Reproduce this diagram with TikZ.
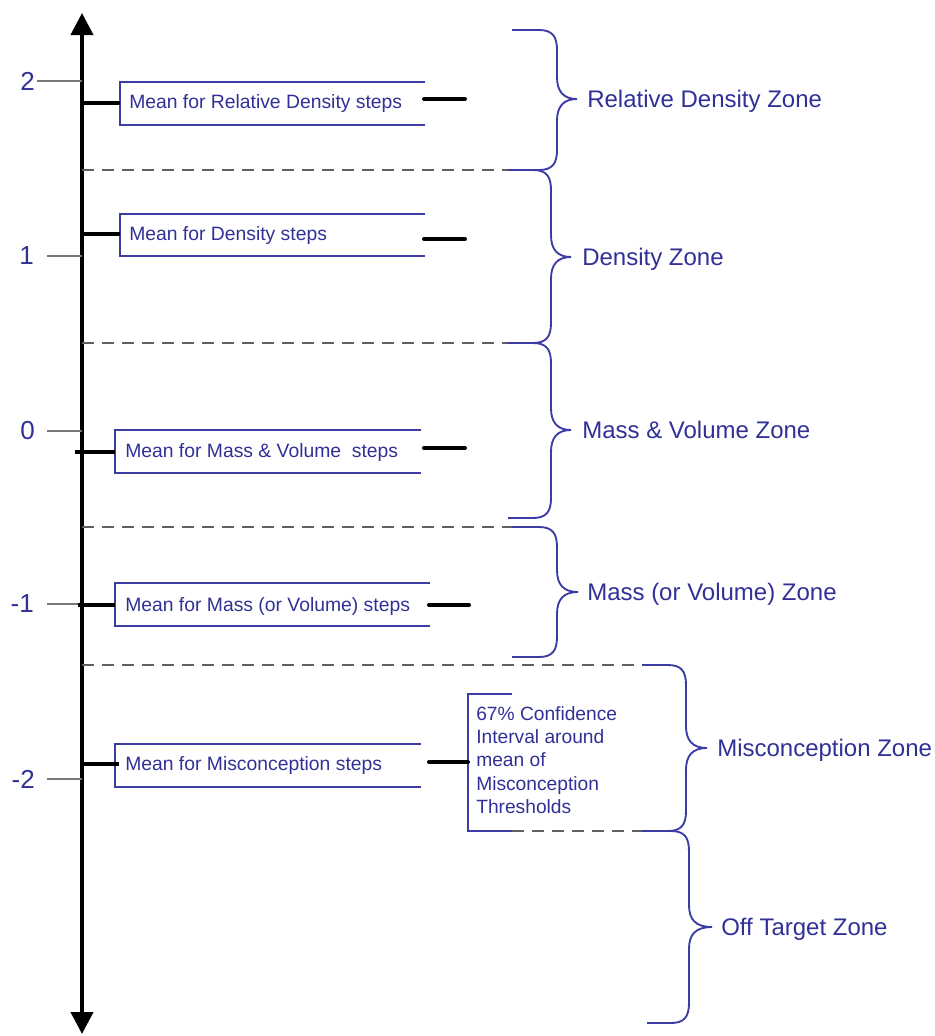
\documentclass[tikz,border=0pt]{standalone}
\usepackage{fontspec}
\setmainfont{Liberation Sans}
\usetikzlibrary{arrows.meta}
\definecolor{zblue}{RGB}{48,48,150}
\definecolor{lblue}{RGB}{60,60,165}
\definecolor{tickgray}{RGB}{120,120,120}
\definecolor{dashgray}{RGB}{95,95,95}
\newcommand{\zonebrace}[6]{% x0, ytop, ybot, xvert, xtip, ytip
  \draw[bracestyle] (#1,#2) -- (#4-18,#2) .. controls (#4-5,#2) and (#4,#2+6) .. (#4,#2+20)
    -- (#4,#6-22) .. controls (#4,#6-8) and (#4+6,#6) .. (#5,#6)
    .. controls (#4+6,#6) and (#4,#6+8) .. (#4,#6+22)
    -- (#4,#3-20) .. controls (#4,#3-6) and (#4-5,#3) .. (#4-18,#3) -- (#1,#3);}
\begin{document}
\begin{tikzpicture}[x=0.75pt,y=-0.75pt,
  axisline/.style={line width=3pt,black},
  tickline/.style={line width=1pt,tickgray},
  ticklabel/.style={anchor=east,inner sep=0pt,text=zblue,font=\fontsize{19.5}{21}\selectfont},
  meanline/.style={line width=2.3pt,black},
  rdash/.style={line width=3pt,black,line cap=round},
  boxline/.style={line width=1.1pt,lblue},
  boxtext/.style={anchor=base west,inner sep=0pt,text=zblue,font=\fontsize{14.5}{17}\selectfont},
  zonetext/.style={anchor=base west,inner sep=0pt,text=zblue,font=\fontsize{18}{20}\selectfont},
  zonedash/.style={line width=1.4pt,dashgray,dash pattern=on 9pt off 6pt},
  bracestyle/.style={line width=1.4pt,lblue},
]
\useasboundingbox (0,0) rectangle (935,1036);

% axis
\coordinate (axtop) at (82,13);
\coordinate (axbot) at (82,1034);
\draw[axisline,{Triangle[length=16.5pt,width=16.5pt]}-{Triangle[length=16.5pt,width=16.5pt]}] (axbot) -- (axtop);

% ticks
\coordinate (t2) at (82,81);
\coordinate (t1) at (82,256);
\coordinate (t0) at (82,431);
\coordinate (tm1) at (82,604);
\coordinate (tm2) at (82,779);
\node[ticklabel] (l2) at (35,81) {2};
\node[ticklabel] (l1) at (34,256) {1};
\node[ticklabel] (l0) at (35,431) {0};
\node[ticklabel] (lm1) at (34,604) {-1};
\node[ticklabel] (lm2) at (35,779) {-2};
\draw[tickline] (37,81) -- (t2);
\draw[tickline] (47,256) -- (t1);
\draw[tickline] (47,431) -- (t0);
\draw[tickline] (47,604) -- (tm1);
\draw[tickline] (47,779) -- (tm2);

% zone separators
\draw[zonedash] (82,170) -- (508,170);
\draw[zonedash] (82,343) -- (508,343);
\draw[zonedash] (82,527) -- (512,527);
\draw[zonedash] (82,665) -- (642,665);
\draw[zonedash] (512,831) -- (642,831);

% box 1: relative density
\draw[boxline] (425,82) -- (120,82) -- (120,125) -- (425,125);
\draw[meanline] (82,103) -- (120,103);
\draw[rdash] (424,99) -- (465,99);
\node[boxtext] (b1) at (129,108) {Mean for Relative Density steps};

% box 2: density
\draw[boxline] (425,214) -- (120,214) -- (120,256) -- (425,256);
\draw[meanline] (82,234) -- (120,234);
\draw[rdash] (424,239) -- (465,239);
\node[boxtext] (b2) at (129,240) {Mean for Density steps};

% box 3: mass & volume
\draw[boxline] (421,430) -- (115,430) -- (115,473) -- (421,473);
\draw[meanline] (75,452) -- (115,452);
\draw[rdash] (424,448) -- (465,448);
\node[boxtext] (b3) at (125,457) {Mean for Mass \& Volume\ \ steps};

% box 4: mass (or volume)
\draw[boxline] (430,583) -- (115,583) -- (115,626) -- (430,626);
\draw[meanline] (78,605) -- (115,605);
\draw[rdash] (429,605) -- (469,605);
\node[boxtext] (b4) at (125,611) {Mean for Mass (or Volume) steps};

% box 5: misconception
\draw[boxline] (421,744) -- (115,744) -- (115,787) -- (421,787);
\draw[meanline] (82,764) -- (119,764);
\node[boxtext] (b5) at (125,770) {Mean for Misconception steps};

% confidence interval bracket
\draw[boxline] (512,694) -- (468,694) -- (468,831) -- (512,831);
\draw[rdash] (429,762) -- (468,762);
\node[anchor=north west,inner sep=0pt,text=zblue,align=left,
      font=\fontsize{14.4}{17.5}\selectfont] (ci) at (476,706)
  {67\% Confidence\\Interval around\\mean of\\Misconception\\Thresholds};

% braces
\zonebrace{512}{30}{170}{557}{577}{99}
\zonebrace{508}{170}{343}{551}{571}{257}
\zonebrace{508}{343}{518}{551}{571}{430}
\zonebrace{512}{527}{657}{557}{578}{592}
\zonebrace{642}{665}{831}{686}{707}{748}
\zonebrace{647}{831}{1023}{689}{712}{927}

% zone labels
\node[zonetext] (z1) at (587,107.5) {Relative Density Zone};
\node[zonetext] (z2) at (582,265.5) {Density Zone};
\node[zonetext] (z3) at (582,438.5) {Mass \& Volume Zone};
\node[zonetext] (z4) at (587,600.5) {Mass (or Volume) Zone};
\node[zonetext] (z5) at (717,756.5) {Misconception Zone};
\node[zonetext] (z6) at (721,935.5) {Off Target Zone};
\end{tikzpicture}
\end{document}
